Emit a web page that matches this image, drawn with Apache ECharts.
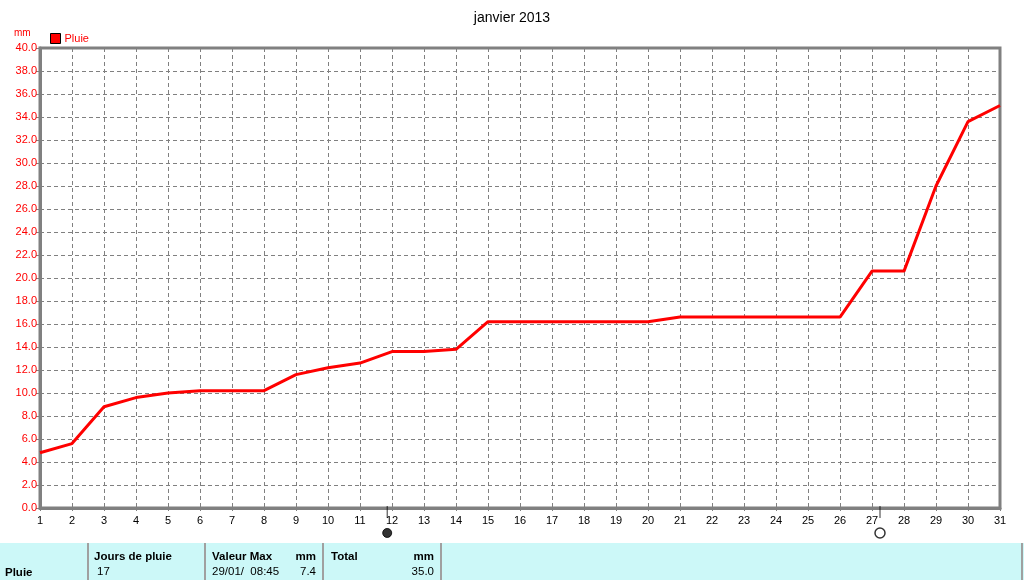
<!DOCTYPE html>
<html><head><meta charset="utf-8">
<script src="https://cdn.jsdelivr.net/npm/echarts@6/dist/echarts.min.js"></script>
<style>html,body{margin:0;padding:0;background:#fff}#c{width:1024px;height:580px}</style>
</head><body><div id="c"></div>
<script>
const days = [1,2,3,4,5,6,7,8,9,10,11,12,13,14,15,16,17,18,19,20,21,22,23,24,25,26,27,28,29,30,31];
const pluie = [4.8,5.6,8.8,9.6,10.0,10.2,10.2,10.2,11.6,12.2,12.6,13.6,13.6,13.8,16.2,16.2,16.2,16.2,16.2,16.2,16.6,16.6,16.6,16.6,16.6,16.6,20.6,20.6,28.0,33.6,35.0];
const newMoonDay = [11.85];
const fullMoonDay = [27.25];
const moonRow = -2.17;
const tickRow = -0.35;
const title = 'janvier 2013';
const tableHeaders = ['Jours de pluie', 'Valeur Max', 'mm', 'Total', 'mm'];
const tableRow = ['Pluie', '17', '29/01/  08:45', '7.4', '35.0'];

const FONT = 'Liberation Sans, Arial, sans-serif';
const chart = echarts.init(document.getElementById('c'));
const txt = (x, y, t, o) => ({type:'text', x:x, y:y, style:Object.assign({text:t, font:'11.5px ' + FONT, fill:'#000', align:'left', verticalAlign:'middle'}, o||{})});
const vline = x => ({type:'line', shape:{x1:x, y1:543, x2:x, y2:580}, style:{stroke:'#a0a0a0', lineWidth:2}});

chart.setOption({
  animation:false,
  backgroundColor:'#fff',
  title:{text:title, left:'center', top:6, textStyle:{fontFamily:FONT, fontSize:14, fontWeight:'normal', color:'#000'}},
  legend:{left:50, top:33, padding:0, itemWidth:10, itemHeight:10, itemGap:4,
    textStyle:{color:'#ff0000', fontFamily:FONT, fontSize:11, padding:[0,0,0,-1]},
    data:[{name:'Pluie', icon:'rect', itemStyle:{color:'#ff0000', borderColor:'#000', borderWidth:1}}]},
  grid:{left:40, right:24, top:48, bottom:72, show:true, borderColor:'#808080', borderWidth:3, backgroundColor:'transparent'},
  xAxis:{type:'value', min:1, max:31, interval:1,
    axisLine:{show:true, lineStyle:{color:'#808080', width:3}},
    axisTick:{show:true, inside:false, length:3, lineStyle:{color:'#808080'}},
    axisLabel:{color:'#000', fontFamily:FONT, fontSize:11, margin:7},
    splitLine:{show:true, lineStyle:{color:'#808080', type:[4,3], width:1}}},
  yAxis:{type:'value', min:0, max:40, interval:2,
    axisLine:{show:true, lineStyle:{color:'#808080', width:3}},
    axisTick:{show:true, length:4, lineStyle:{color:'#808080'}},
    axisLabel:{color:'#ff0000', fontFamily:FONT, fontSize:11, margin:3, formatter:v=>v.toFixed(1)},
    splitLine:{show:true, lineStyle:{color:'#808080', type:[4,3], width:1}}},
  graphic:[
    txt(14, 33, 'mm', {fill:'#ff0000', font:'10px ' + FONT}),
    {type:'rect', shape:{x:0, y:543, width:1024, height:37}, style:{fill:'#ccf8f8'}},
    vline(88), vline(205), vline(323), vline(441), vline(1022),
    txt(94, 557, tableHeaders[0], {font:'bold 11.5px ' + FONT}),
    txt(212, 557, tableHeaders[1], {font:'bold 11.5px ' + FONT}),
    txt(316, 557, tableHeaders[2], {font:'bold 11.5px ' + FONT, align:'right'}),
    txt(331, 557, tableHeaders[3], {font:'bold 11.5px ' + FONT}),
    txt(434, 557, tableHeaders[4], {font:'bold 11.5px ' + FONT, align:'right'}),
    txt(5, 573, tableRow[0], {font:'bold 11.5px ' + FONT}),
    txt(97, 572, tableRow[1]),
    txt(212, 572, tableRow[2]),
    txt(316, 572, tableRow[3], {align:'right'}),
    txt(434, 572, tableRow[4], {align:'right'})
  ],
  series:[
    {name:'Pluie', type:'line', data:days.map((d,i)=>[d, pluie[i]]), showSymbol:false, symbol:'none',
      lineStyle:{color:'#ff0000', width:3}, itemStyle:{color:'#ff0000'}, z:5},
    {name:'ticks', type:'scatter', clip:false, silent:true, symbol:'rect', symbolSize:[1,12],
      itemStyle:{color:'#000'}, data:newMoonDay.concat(fullMoonDay).map(d=>[d, tickRow]), z:6},
    {name:'nouvelle lune', type:'scatter', clip:false, silent:true, symbol:'circle', symbolSize:9,
      itemStyle:{color:'#000', borderColor:'#000', borderWidth:1}, data:newMoonDay.map(d=>[d, moonRow]), z:6},
    {name:'pleine lune', type:'scatter', clip:false, silent:true, symbol:'circle', symbolSize:10,
      itemStyle:{color:'#fff', borderColor:'#000', borderWidth:1.5}, data:fullMoonDay.map(d=>[d, moonRow]), z:6}
  ]
});
</script></body></html>
